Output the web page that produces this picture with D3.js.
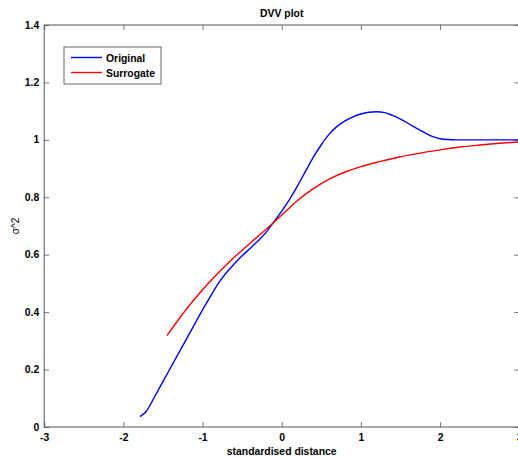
<!DOCTYPE html>
<meta charset="utf-8">
<style>
body {margin: 0; background: #fff;}
text {font-family: "Liberation Sans", Arial, sans-serif; font-weight: bold; font-size: 10.4px;}
.tick line {stroke: #777;}
</style>
<html>
<body>
<script src="https://d3js.org/d3.v7.min.js"></script>
<script>
var width = 518,
    height = 457;

// Original curve
var origX = [-1.79, -1.71, -1.6, -1.5, -1.4, -1.3, -1.2, -1.1, -1.0, -0.9, -0.8, -0.7, -0.6, -0.5, -0.4, -0.3, -0.2, -0.1, 0, 0.1, 0.2, 0.3, 0.4, 0.5, 0.6, 0.7, 0.8, 0.9, 1.0, 1.1, 1.2, 1.3, 1.4, 1.5, 1.6, 1.7, 1.8, 1.9, 2.0, 2.1, 2.2, 3.0];
var origY = [0.036, 0.055, 0.108, 0.158, 0.208, 0.258, 0.308, 0.358, 0.408, 0.455, 0.5, 0.537, 0.568, 0.596, 0.622, 0.648, 0.677, 0.714, 0.752, 0.793, 0.84, 0.89, 0.94, 0.983, 1.02, 1.047, 1.066, 1.08, 1.09, 1.096, 1.098, 1.095, 1.085, 1.072, 1.057, 1.041, 1.026, 1.012, 1.004, 1.001, 1.0, 1.0];

// Surrogate curve
var surrX = [-1.45, -1.2, -1.0, -0.8, -0.6, -0.4, -0.2, 0, 0.2, 0.4, 0.6, 0.8, 1.0, 1.25, 1.5, 1.75, 2.0, 2.25, 2.5, 2.75, 3.0];
var surrY = [0.318, 0.412, 0.478, 0.537, 0.591, 0.64, 0.688, 0.738, 0.789, 0.83, 0.863, 0.888, 0.907, 0.925, 0.941, 0.954, 0.965, 0.975, 0.982, 0.988, 0.993];

var xTicks = [-3, -2, -1, 0, 1, 2, 3];
var yTicks = [0, 0.2, 0.4, 0.6, 0.8, 1, 1.2, 1.4];
var seriesNames = ["Original", "Surrogate"];
var seriesColors = ["#0000ff", "#ff0000"];

var pLeft = 44.2, pRight = 519.2, pTop = 25, pBottom = 427;

var x = d3.scaleLinear().domain([-3, 3]).range([pLeft, pRight]);
var y = d3.scaleLinear().domain([0, 1.4]).range([pBottom, pTop]);

var fmt = function(d) { return String(d); };

var svg = d3.select("body").append("svg")
    .attr("width", width)
    .attr("height", height);

// axes, ticks pointing inward
var xb = svg.append("g").attr("transform", "translate(0," + pBottom + ")")
    .call(d3.axisBottom(x).tickValues(xTicks).tickSizeInner(-5).tickSizeOuter(0).tickPadding(5).tickFormat(fmt));
var xt = svg.append("g").attr("transform", "translate(0," + pTop + ")")
    .call(d3.axisTop(x).tickValues(xTicks).tickSizeInner(-5).tickSizeOuter(0).tickFormat(""));
var yl = svg.append("g").attr("transform", "translate(" + pLeft + ",0)")
    .call(d3.axisLeft(y).tickValues(yTicks).tickSizeInner(-5).tickSizeOuter(0).tickPadding(5).tickFormat(fmt));
var yr = svg.append("g").attr("transform", "translate(" + pRight + ",0)")
    .call(d3.axisRight(y).tickValues(yTicks).tickSizeInner(-5).tickSizeOuter(0).tickFormat(""));

svg.selectAll(".domain").remove();
svg.selectAll(".tick text").attr("fill", "#000");
xb.selectAll(".tick text").attr("dy", "0.9em");
yl.selectAll(".tick text").attr("dy", "0.3em");

svg.append("rect")
    .attr("x", pLeft).attr("y", pTop)
    .attr("width", pRight - pLeft).attr("height", pBottom - pTop)
    .attr("fill", "none").attr("stroke", "#555").attr("stroke-width", 1);

var line = d3.line()
    .x(function(d) { return x(d[0]); })
    .y(function(d) { return y(d[1]); })
    .curve(d3.curveMonotoneX);

var series = [d3.zip(origX, origY), d3.zip(surrX, surrY)];

svg.selectAll(".series")
    .data(series)
    .enter().append("path")
    .attr("class", "series")
    .attr("fill", "none")
    .attr("stroke", function(d, i) { return seriesColors[i]; })
    .attr("stroke-width", 1.4)
    .attr("d", line);

// title and labels
svg.append("text")
    .attr("x", (pLeft + pRight) / 2).attr("y", 17)
    .attr("text-anchor", "middle")
    .text("DVV plot");

svg.append("text")
    .attr("x", (pLeft + pRight) / 2).attr("y", 455)
    .attr("text-anchor", "middle")
    .text("standardised distance");

svg.append("text")
    .attr("transform", "translate(19,226) rotate(-90)")
    .attr("text-anchor", "middle")
    .style("font-weight", "normal")
    .style("font-size", "10px")
    .text("\u03c3^2");

// legend
var lg = svg.append("g").attr("transform", "translate(64,47)");
lg.append("rect")
    .attr("width", 97).attr("height", 37)
    .attr("fill", "#fff").attr("stroke", "#666").attr("stroke-width", 1);
seriesNames.forEach(function(name, i) {
    lg.append("line")
        .attr("x1", 7).attr("x2", 38)
        .attr("y1", 10.5 + i * 15).attr("y2", 10.5 + i * 15)
        .attr("stroke", seriesColors[i]).attr("stroke-width", 1.4);
    lg.append("text")
        .attr("x", 42).attr("y", 14.5 + i * 15)
        .text(name);
});
</script>
</body>
</html>
